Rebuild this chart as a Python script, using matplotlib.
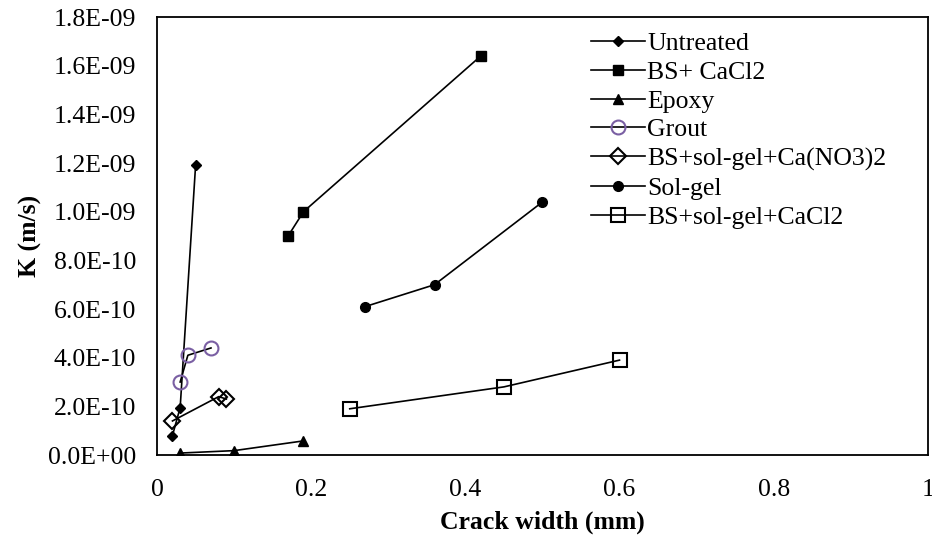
# %% libraries
import matplotlib
matplotlib.use('Agg')
import matplotlib.pyplot as plt
from matplotlib.ticker import FuncFormatter

plt.rcParams['font.family'] = ['Liberation Serif', 'DejaVu Serif']

# %% data
untreated_x = [0.02, 0.03, 0.05]
untreated_y = [8.0e-11, 1.95e-10, 1.19e-9]

bs_cacl2_x = [0.17, 0.19, 0.42]
bs_cacl2_y = [9.0e-10, 1.0e-9, 1.64e-9]

epoxy_x = [0.03, 0.10, 0.19]
epoxy_y = [0.8e-11, 1.8e-11, 5.8e-11]

grout_x = [0.03, 0.04, 0.07]
grout_y = [3.0e-10, 4.1e-10, 4.4e-10]

bs_sg_cano3_x = [0.02, 0.08, 0.09]
bs_sg_cano3_y = [1.4e-10, 2.4e-10, 2.3e-10]

solgel_x = [0.27, 0.36, 0.50]
solgel_y = [6.1e-10, 7.0e-10, 1.04e-9]

bs_sg_cacl2_x = [0.25, 0.45, 0.60]
bs_sg_cacl2_y = [1.9e-10, 2.8e-10, 3.9e-10]

# %% figure
fig = plt.figure(figsize=(9.32, 5.42), dpi=100)
ax = fig.add_axes([0.1685, 0.1605, 0.827, 0.808])

fs = 18.5
lw = 1.2
ax.plot(untreated_x, untreated_y, color='black', lw=lw, marker='D',
        ms=5, mfc='black', mec='black', label='Untreated')
ax.plot(bs_cacl2_x, bs_cacl2_y, color='black', lw=lw, marker='s',
        ms=7, mfc='black', mec='black', label='BS+ CaCl2')
ax.plot(epoxy_x, epoxy_y, color='black', lw=lw, marker='^',
        ms=7, mfc='black', mec='black', label='Epoxy')
ax.plot(grout_x, grout_y, color='black', lw=lw, marker='o',
        ms=10, mfc='none', mec='#7a5fa3', mew=1.5, label='Grout')
ax.plot(bs_sg_cano3_x, bs_sg_cano3_y, color='black', lw=lw, marker='D',
        ms=8.5, mfc='none', mec='black', mew=1.5,
        label='BS+sol-gel+Ca(NO3)2')
ax.plot(solgel_x, solgel_y, color='black', lw=lw, marker='o',
        ms=7, mfc='black', mec='black', label='Sol-gel')
ax.plot(bs_sg_cacl2_x, bs_sg_cacl2_y, color='black', lw=lw, marker='s',
        ms=10, mfc='none', mec='black', mew=1.5, label='BS+sol-gel+CaCl2')

# axis properties
ax.set_xlim(0, 1)
ax.set_ylim(0, 1.8e-9)
ax.set_xticks([0, 0.2, 0.4, 0.6, 0.8, 1.0])
ax.set_xticklabels(['0', '0.2', '0.4', '0.6', '0.8', '1'])
ax.set_yticks([i * 2e-10 for i in range(10)])
ax.yaxis.set_major_formatter(FuncFormatter(lambda v, p: f'{v:.1E}'))
ax.tick_params(axis='y', length=0, labelsize=fs, pad=15)
ax.tick_params(axis='x', length=0, labelsize=fs, pad=17)
ax.set_xlabel('Crack width (mm)', fontsize=fs, fontweight='bold', labelpad=7)
ax.set_ylabel('K (m/s)', fontsize=fs, fontweight='bold', labelpad=4)

for s in ax.spines.values():
    s.set_linewidth(1.3)
    s.set_color('black')

ax.legend(loc='upper left', bbox_to_anchor=(0.55, 0.99), frameon=False,
          fontsize=fs, handlelength=2.1, handletextpad=0.08,
          labelspacing=0.23, borderaxespad=0)

plt.savefig('out.png', dpi=100)
